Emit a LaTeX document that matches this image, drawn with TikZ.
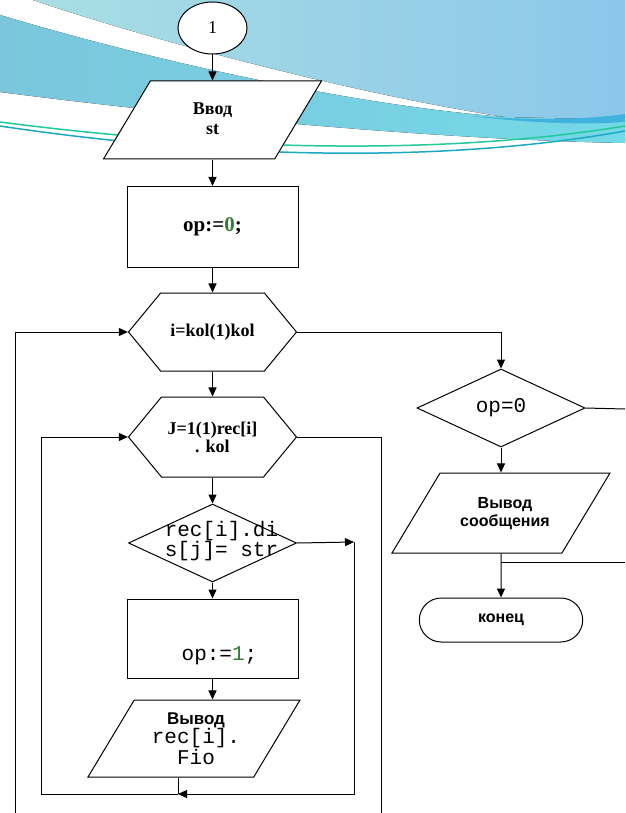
\documentclass[tikz,border=0pt]{standalone}
\usepackage{fontspec}
\setmainfont{Liberation Serif}
\setsansfont{Liberation Sans}
\setmonofont{Liberation Mono}
\usetikzlibrary{shapes.geometric,shapes.misc,shapes.symbols,arrows.meta,calc}

\definecolor{skyTop}{HTML}{A9DEE3}
\definecolor{skyRight}{HTML}{8BC7EA}
\definecolor{bandLeft}{HTML}{7BC6DC}
\definecolor{bandRight}{HTML}{74D9E6}
\definecolor{streak}{HTML}{3FB2DE}
\definecolor{waveGreen}{HTML}{22C99A}
\definecolor{waveTeal}{HTML}{1AA8C2}
\definecolor{codegreen}{HTML}{2E7D32}

\tikzset{
  box/.style={draw, fill=white, line width=1pt},
  proc/.style={box, rectangle, minimum width=171pt, minimum height=81pt},
  io/.style={box, trapezium, trapezium left angle=59, trapezium right angle=121,
    trapezium stretches body, inner xsep=0pt, inner ysep=39pt, minimum width=218pt},
  loopbox/.style={box, signal, signal to=west and east, signal pointer angle=101,
    minimum width=168pt, minimum height=78pt, inner sep=0pt},
  decision/.style={box, diamond, minimum width=168pt, minimum height=78pt, inner sep=0pt},
  startbox/.style={box, ellipse, minimum width=69pt, minimum height=52pt, inner sep=0pt},
  term/.style={box, rounded rectangle, minimum width=170pt, minimum height=44pt},
  serifB/.style={font=\fontsize{18}{20}\selectfont\bfseries, align=center},
  mono/.style={font=\ttfamily\fontsize{21}{20}\selectfont, align=center},
  sansB/.style={font=\sffamily\bfseries\fontsize{16}{18}\selectfont, align=center},
  arr/.style={line width=1pt, -{Triangle[length=9pt,width=8pt]}},
  line/.style={line width=1pt}
}

\begin{document}
\begin{tikzpicture}[x=1pt,y=-1pt]
  % Фон
  \fill[white] (0,0) rectangle (625,813);
  \useasboundingbox (0,0) rectangle (625,813);
  \fill[left color=skyTop, right color=skyRight] (33,0) -- (625,0) -- (625,118)
    .. controls (580,119) and (540,119) .. (505,117)
    .. controls (360,95) and (150,40) .. (33,0) -- cycle;
  \fill[left color=bandLeft, right color=bandRight] (0,15)
    .. controls (150,60) and (350,105) .. (505,117) -- (625,120) -- (625,143)
    .. controls (450,140) and (200,118) .. (0,92) -- cycle;
  \fill[streak] (470,116) .. controls (540,121) and (590,119) .. (625,114) -- (625,122)
    .. controls (580,125) and (530,123) .. (470,116) -- cycle;
  \draw[waveGreen, line width=1.5pt] (0,122) .. controls (200,148) and (430,158) .. (625,126);
  \draw[waveTeal, line width=1.5pt] (0,126) .. controls (200,156) and (430,166) .. (625,131);

  % Блоки: левая колонка
  \node[startbox, font=\fontsize{18}{18}\selectfont] (start) at (212.5,28) {1};
  \node[io, label={[serifB, yshift=1pt]center:{Ввод\\st}}] (inSt) at (212.5,120) {};
  \node[proc, font=\fontsize{21}{21}\selectfont\bfseries] (setZero) at (212.5,227) {op:=\textcolor{codegreen}{0};};
  \node[loopbox, label={[serifB]center:{i=kol(1)kol}}] (loopI) at (212.5,332) {};
  \node[loopbox, minimum height=80pt, label={[serifB, font=\fontsize{18}{18}\selectfont\bfseries]center:{J=1(1)rec[i]\\. kol}}] (loopJ) at (212.5,437) {};
  \node[decision, label={[mono, xshift=9pt, yshift=2pt]center:{rec[i].di\\s[j]= str}}] (check) at (212.5,543) {};
  \node[proc, minimum height=79pt, label={[mono, xshift=7pt, yshift=-17pt]center:{op:=\textcolor{codegreen}{1};}}] (setOne) at (212.5,638.5) {};
  \node[io, inner ysep=38.5pt, minimum width=212pt,
    label={[mono, xshift=2pt]center:{{\sffamily\bfseries\fontsize{17}{18}\selectfont Вывод}\\[-1pt] rec[i].\\[1pt] Fio}}]
    (outRec) at (194,738.5) {};

  % Блоки: правая колонка
  \node[decision, mono] (isZero) at (501,408) {op=0};
  \node[io, inner ysep=40pt, label={[sansB, xshift=4pt, yshift=-1pt]center:{Вывод\\сообщения}}] (outMsg) at (501,513) {};
  \node[term, sansB] (finish) at (501,620) {конец};

  % Точки изломов
  \coordinate (yesTurn) at (354,542);
  \coordinate (joinPt) at (178,794);
  \coordinate (innerCorner) at (41,794);
  \coordinate (outerBot) at (15,813);
  \coordinate (exitTurn) at (381,437);
  \coordinate (exitBot) at (381,813);
  \coordinate (noOut) at (625,409);
  \coordinate (backIn) at (625,562);

  % Стрелки
  \draw[arr] (start) -- (inSt);
  \draw[arr] (inSt) -- (setZero);
  \draw[arr] (setZero) -- (loopI);
  \draw[arr] (loopI) -- (loopJ);
  \draw[arr] (loopJ) -- (check);
  \draw[arr] (check) -- (setOne);
  \draw[arr] (setOne.south) -- (setOne.south |- outRec.north);
  \draw[line] (outRec.south -| joinPt) -- (joinPt);
  \draw[arr] (check.east) -- (yesTurn);
  \draw[arr] (yesTurn) |- (joinPt);
  \draw[arr] (joinPt) -- (innerCorner) |- (loopJ.west);
  \draw[arr] (outerBot) |- (loopI.west);
  \draw[line] (loopJ.east) -- (exitTurn) -- (exitBot);
  \draw[arr] (loopI.east) -| (isZero.north);
  \draw[line] (isZero.east) -- (noOut);
  \draw[arr] (isZero) -- (outMsg);
  \draw[arr] (outMsg) -- (finish);
  \draw[line] (backIn) -- (backIn -| finish.north);
\end{tikzpicture}
\end{document}
